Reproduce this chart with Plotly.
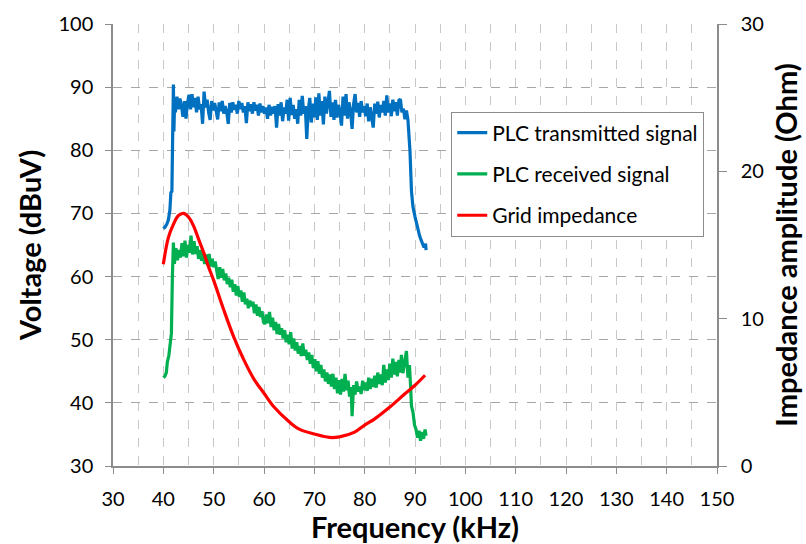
import plotly.graph_objects as go

# ---- data ----
tx_freq = [40.0, 40.3, 40.7, 41.0, 41.3, 41.5, 41.7, 41.9, 42.0, 42.1, 42.25,
           42.4, 42.7, 43.0, 43.3, 43.6, 43.9, 44.2, 44.5, 44.8, 45.1, 45.4, 45.7, 46.0, 46.3, 46.6, 46.9,
           47.2, 47.5, 47.8, 48.1, 48.4, 48.7, 49.0, 49.3, 49.6, 49.9, 50.2, 50.5, 50.8, 51.1, 51.4, 51.7,
           52.0, 52.3, 52.6, 52.9, 53.2, 53.5, 53.8, 54.1, 54.4, 54.7, 55.0, 55.3, 55.6, 55.9, 56.2, 56.5,
           56.8, 57.1, 57.4, 57.7, 58.0, 58.3, 58.6, 58.9, 59.2, 59.5, 59.8, 60.1, 60.4, 60.7, 61.0, 61.3,
           61.6, 61.9, 62.2, 62.5, 62.8, 63.1, 63.4, 63.7, 64.0, 64.3, 64.6, 64.9, 65.2, 65.5, 65.8, 66.1,
           66.4, 66.7, 67.0, 67.3, 67.6, 67.9, 68.2, 68.5, 68.8, 69.1, 69.4, 69.7, 70.0, 70.3, 70.6, 70.9,
           71.2, 71.5, 71.8, 72.1, 72.4, 72.7, 73.0, 73.3, 73.6, 73.9, 74.2, 74.5, 74.8, 75.1, 75.4, 75.7,
           76.0, 76.3, 76.6, 76.9, 77.2, 77.5, 77.8, 78.1, 78.4, 78.7, 79.0, 79.3, 79.6, 79.9, 80.2, 80.5,
           80.8, 81.1, 81.4, 81.7, 82.0, 82.3, 82.6, 82.9, 83.2, 83.5, 83.8, 84.1, 84.4, 84.7, 85.0, 85.3,
           85.6, 85.9, 86.2, 86.5, 86.8, 87.1, 87.4, 87.7, 88.0, 88.3, 88.6,
           88.9, 89.0, 89.3, 89.6, 90.0, 90.3, 90.6, 90.9, 91.2, 91.5, 91.8, 92.1, 92.2]
tx_volt = [67.6, 67.8, 68.3, 69.0, 70.5, 73.3, 73.5, 82.5, 90.4, 83.0, 88.0,
           86.0, 88.5, 86.5, 88.2, 87.0, 85.3, 87.8, 85.0, 87.5, 88.8, 86.5, 88.9, 86.8, 88.3, 86.0, 88.5,
           86.5, 87.3, 84.2, 89.3, 86.8, 88.0, 86.0, 84.8, 87.8, 86.3, 87.5, 86.0, 84.9, 87.6, 86.2, 87.8,
           85.8, 87.0, 86.0, 84.2, 87.5, 86.0, 87.6, 86.4, 87.2, 85.8, 87.8, 86.5, 87.5, 86.0, 87.0, 84.3,
           87.6, 86.2, 87.3, 85.8, 87.6, 86.3, 87.2, 85.5, 87.4, 86.0, 87.0, 85.8, 86.8, 85.0, 87.2, 85.5,
           86.9, 85.8, 87.0, 83.6, 87.3, 85.5, 87.6, 84.6, 86.8, 85.8, 88.0, 84.7, 88.3, 85.6, 87.2, 85.0,
           86.5, 84.2, 88.0, 85.5, 88.6, 85.8, 87.0, 81.8, 86.5, 88.3, 84.4, 87.4, 85.2, 88.4, 84.8, 89.0,
           85.5, 87.8, 84.1, 88.5, 85.8, 87.6, 89.4, 85.3, 87.6, 84.8, 88.0, 85.2, 87.2, 86.0, 83.9, 88.5,
           85.5, 88.9, 85.0, 87.6, 86.2, 83.4, 87.3, 88.9, 86.0, 87.5, 85.3, 87.8, 86.0, 87.0, 85.4, 87.4,
           84.6, 86.8, 85.5, 83.6, 87.4, 85.8, 87.7, 85.2, 87.2, 86.0, 87.8, 85.5, 88.7, 86.0, 87.4, 85.4,
           88.0, 86.2, 87.6, 85.5, 87.9, 88.1, 86.0, 86.6, 84.9, 86.3, 84.8,
           82.0, 79.9, 73.5, 71.0, 69.5, 68.5, 67.0, 66.5, 65.8, 65.0, 64.6, 65.2, 64.2]

rx_freq = [40.0, 40.3, 40.6, 40.8, 41.1, 41.4, 41.6, 41.8, 42.0, 42.2,
           42.5, 42.8, 43.1, 43.4, 43.7, 44.0, 44.3, 44.6, 44.9, 45.2, 45.5, 45.8, 46.1, 46.4, 46.7, 47.0,
           47.3, 47.6, 47.9, 48.2, 48.5, 48.8, 49.1, 49.4, 49.7, 50.0, 50.3, 50.6, 50.9, 51.2, 51.5, 51.8,
           52.1, 52.4, 52.7, 53.0, 53.3, 53.6, 53.9, 54.2, 54.5, 54.8, 55.1, 55.4, 55.7, 56.0, 56.3, 56.6,
           56.9, 57.2, 57.5, 57.8, 58.1, 58.4, 58.7, 59.0, 59.3, 59.6, 59.9, 60.2, 60.5, 60.8, 61.1, 61.4,
           61.7, 62.0, 62.3, 62.6, 62.9, 63.2, 63.5, 63.8, 64.1, 64.4, 64.7, 65.0, 65.3, 65.6, 65.9, 66.2,
           66.5, 66.8, 67.1, 67.4, 67.7, 68.0, 68.3, 68.6, 68.9, 69.2, 69.5, 69.8, 70.1, 70.4, 70.7, 71.0,
           71.3, 71.6, 71.9, 72.2, 72.5, 72.8, 73.1, 73.4, 73.7, 74.0, 74.3, 74.6, 74.9, 75.2, 75.5, 75.8,
           76.1, 76.4, 76.7, 77.0, 77.3, 77.5, 77.8, 78.1, 78.4, 78.7, 79.0, 79.3, 79.6, 79.9, 80.2, 80.5,
           80.8, 81.1, 81.4, 81.7, 82.0, 82.3, 82.6, 82.9, 83.2, 83.5, 83.8, 84.1, 84.4, 84.7, 85.0, 85.3,
           85.6, 85.9, 86.2, 86.5, 86.8, 87.1, 87.3, 87.6, 87.9, 88.3, 88.6, 88.9, 89.1, 89.3, 89.6, 89.9,
           90.2, 90.5, 90.8, 91.1, 91.4, 91.7, 92.0, 92.2]
rx_volt = [44.0, 44.2, 44.8, 46.5, 47.5, 49.5, 51.0, 60.0, 65.4, 62.0,
           64.5, 62.6, 64.2, 63.0, 65.3, 63.2, 65.7, 63.0, 65.0, 63.8, 66.5, 63.5, 65.6, 63.6, 64.8, 62.8,
           64.2, 62.5, 63.7, 62.0, 63.5, 61.8, 63.6, 61.6, 62.8, 61.5, 62.4, 61.0, 59.6, 61.5, 59.8, 61.2,
           59.4, 60.5, 58.8, 59.8, 58.3, 59.5, 57.6, 58.8, 57.0, 58.5, 56.8, 57.8, 56.0, 57.5, 55.6, 56.5,
           55.0, 56.2, 55.3, 56.0, 54.2, 55.6, 53.8, 55.2, 53.6, 54.5, 52.8, 52.5, 54.0, 52.6, 54.4, 52.0,
           53.5, 51.5, 52.8, 50.9, 52.5, 50.8, 51.8, 50.2, 51.5, 49.6, 50.8, 49.3, 51.2, 48.6, 50.2, 48.3,
           49.6, 47.8, 49.0, 47.4, 49.4, 47.5, 48.4, 46.8, 48.0, 46.2, 47.6, 45.5, 46.9, 45.0, 46.6, 44.6,
           46.0, 44.0, 45.3, 43.4, 44.8, 43.0, 44.5, 42.6, 44.6, 42.2, 44.0, 41.5, 43.6, 41.3, 43.8, 41.8,
           44.6, 42.0, 43.5, 41.0, 42.5, 37.9, 42.8, 41.3, 43.4, 41.8, 42.6, 41.4, 43.5, 42.0, 43.2, 41.9,
           44.0, 42.2, 43.8, 42.5, 44.3, 42.4, 44.8, 43.0, 44.5, 42.8, 46.0, 43.2, 45.3, 43.6, 46.2, 44.0,
           47.0, 44.5, 46.5, 44.2, 46.8, 44.8, 47.6, 44.7, 46.5, 48.2, 44.0, 46.0, 43.0, 39.5, 38.5, 36.5,
           35.8, 34.5, 35.6, 34.0, 35.4, 34.3, 35.8, 34.8]

z_freq = [40, 41, 42, 43, 44, 45, 46, 47, 48, 49, 50, 52, 54, 56, 58, 60, 62, 65, 67, 70,
          73, 75, 78, 80, 82, 85, 88, 90, 92]
z_ohm = [13.7, 15.5, 16.4, 17.0, 17.15, 16.9, 16.3, 15.4, 14.5, 13.5, 12.6, 10.6, 8.75, 7.2,
         5.9, 4.94, 4.0, 3.0, 2.5, 2.17, 1.94, 1.98, 2.3, 2.78, 3.2, 4.0, 4.9, 5.48, 6.16]

x_ticks = [30, 40, 50, 60, 70, 80, 90, 100, 110, 120, 130, 140, 150]
y_ticks = [30, 40, 50, 60, 70, 80, 90, 100]
y2_ticks = [0, 10, 20, 30]

FONT = "Lato"
TITLE_FONT = dict(family=FONT, size=29, weight=700, color="black")

fig = go.Figure()
fig.add_trace(go.Scatter(x=tx_freq, y=tx_volt, mode="lines", name="PLC transmitted signal",
                         line=dict(color="#0070C0", width=3.2), legendgroup="a"))
fig.add_trace(go.Scatter(x=rx_freq, y=rx_volt, mode="lines", name="PLC received signal",
                         line=dict(color="#00B050", width=3.2), legendgroup="b"))
fig.add_trace(go.Scatter(x=z_freq, y=z_ohm, mode="lines", name="Grid impedance", yaxis="y2",
                         line=dict(color="#FF0000", width=3.2, shape="spline"), legendgroup="c"))

axis_line = "#8c8c8c"
fig.update_layout(
    width=806, height=544,
    margin=dict(l=113, r=89, t=24, b=78, autoexpand=False),
    paper_bgcolor="white", plot_bgcolor="white",
    font=dict(family=FONT, size=20, color="black"),
    showlegend=True,
    legend=dict(x=0.56, y=0.802, xanchor="left", yanchor="top",
                bgcolor="white", bordercolor="#8c8c8c", borderwidth=1,
                font=dict(family=FONT, size=21, color="black"),
                traceorder="grouped", tracegroupgap=11, itemwidth=30),
    xaxis=dict(range=[30, 150], tickvals=x_ticks, ticks="outside", ticklen=6,
               tickcolor=axis_line, showline=True, linecolor=axis_line, linewidth=1.5,
               showgrid=True, gridcolor="#c8c8c8", griddash="dash", gridwidth=1,
               minor=dict(dtick=5, showgrid=True, gridcolor="#c8c8c8", griddash="dash", gridwidth=1),
               zeroline=False, ticklabelstandoff=8, automargin=False,
               title=dict(text="Frequency (kHz)", font=TITLE_FONT, standoff=4)),
    yaxis=dict(range=[30, 100], tickvals=y_ticks, ticks="outside", ticklen=6,
               tickcolor=axis_line, showline=True, linecolor=axis_line, linewidth=1.5,
               showgrid=True, gridcolor="#a6a6a6", griddash="dash", gridwidth=1,
               zeroline=False, ticklabelstandoff=8, automargin=False,
               title=dict(text="Voltage (dBuV)", font=TITLE_FONT, standoff=8)),
    yaxis2=dict(range=[0, 30], tickvals=y2_ticks, ticks="outside", ticklen=8,
                tickcolor=axis_line, showline=True, linecolor=axis_line, linewidth=1.5,
                overlaying="y", side="right", showgrid=False, zeroline=False,
                ticklabelstandoff=10, automargin=False,
                title=dict(text="<b>Impedance amplitude (Ohm)</b>", font=TITLE_FONT, standoff=14)),
)

fig.write_html("out.html")
